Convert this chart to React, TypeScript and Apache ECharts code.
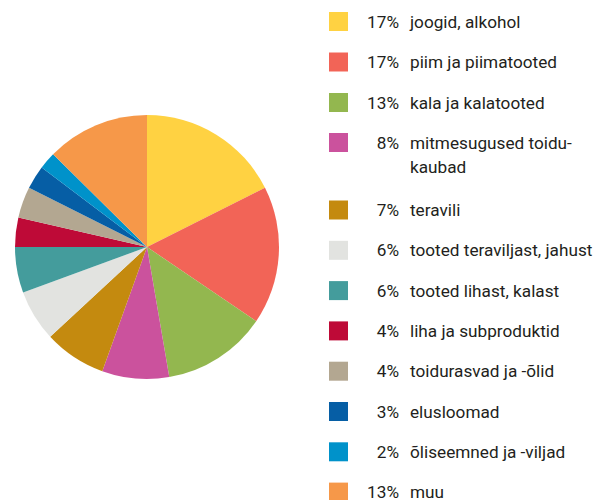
import React, { useEffect, useRef } from "react";
import * as echarts from "echarts";

const categories = [
  "joogid, alkohol",
  "piim ja piimatooted",
  "kala ja kalatooted",
  "mitmesugused toidu-\nkaubad",
  "teravili",
  "tooted teraviljast, jahust",
  "tooted lihast, kalast",
  "liha ja subproduktid",
  "toidurasvad ja -õlid",
  "elusloomad",
  "õliseemned ja -viljad",
  "muu",
];
const sliceValues = [17.6, 16.9, 12.8, 8.2, 7.6, 6.3, 5.6, 3.6, 3.8, 2.9, 2.1, 12.6];
const percentLabels = ["17%", "17%", "13%", "8%", "7%", "6%", "6%", "4%", "4%", "3%", "2%", "13%"];
const palette = [
  "#FFD242",
  "#F26457",
  "#93B74F",
  "#CB529D",
  "#C48A0F",
  "#E2E3E0",
  "#449C9C",
  "#BE0A37",
  "#B3A791",
  "#065EA5",
  "#0092CA",
  "#F69849",
];

const TEXT_COLOR = "#231f20";
const PCT_COL = 46;
const NAME_GAP = 11;
const TARGET_WIDTH = 182; // width of "tooted teraviljast, jahust" in the reference

export default function App() {
  const ref = useRef<HTMLDivElement>(null);
  useEffect(() => {
    if (!ref.current) return;
    const chart = echarts.init(ref.current, null, { renderer: "svg" });
    const ctx = document.createElement("canvas").getContext("2d")!;
    const probe = "mmmmmmwwwwwlllii0123";
    ctx.font = "20px monospace";
    const mono = ctx.measureText(probe).width;
    ctx.font = "20px 'Liberation Sans Narrow', monospace";
    const narrowOk = Math.abs(ctx.measureText(probe).width - mono) > 0.5;
    const FONT = narrowOk ? "'Liberation Sans Narrow'" : "Roboto";
    ctx.font = `20px ${FONT}`;
    let FONT_SIZE = (20 * TARGET_WIDTH) / ctx.measureText(categories[5]).width;
    FONT_SIZE = Math.round(FONT_SIZE * 10) / 10;
    ctx.font = `${FONT_SIZE}px ${FONT}`;
    const base = { fontSize: FONT_SIZE, lineHeight: 24, fontFamily: FONT, color: TEXT_COLOR };
    const rich: Record<string, any> = {
      n: { ...base, padding: [0, 0, 0, NAME_GAP] },
      c: { ...base, padding: [0, 0, 0, PCT_COL + NAME_GAP] },
    };
    percentLabels.forEach((p, i) => {
      const w = ctx.measureText(p).width;
      rich["p" + i] = { ...base, padding: [0, 0, 0, Math.max(0, PCT_COL - w)] };
    });
    const formatter = (name: string) => {
      const i = categories.indexOf(name);
      return name
        .split("\n")
        .map((l, k) => (k === 0 ? `{p${i}|${percentLabels[i]}}{n|${l}}` : `{c|${l}}`))
        .join("\n");
    };
    const baseLegend = {
      orient: "vertical",
      left: 329,
      padding: 0,
      itemWidth: 19,
      itemHeight: 19,
      icon: "rect",
      selectedMode: false,
      formatter,
      textStyle: { ...base, rich },
    };
    chart.setOption({
      animation: false,
      color: palette,
      legend: [
        { ...baseLegend, top: 9.5, itemGap: 16.5, data: categories.slice(0, 3) },
        {
          ...baseLegend,
          top: 106.5,
          data: [categories[3]],
          textStyle: { ...baseLegend.textStyle, padding: [24, 0, 0, 0] },
        },
        { ...baseLegend, top: 198, height: 400, itemGap: 16.3, data: categories.slice(4) },
      ],
      series: [
        {
          type: "pie",
          center: [147, 247],
          radius: 132,
          startAngle: 90,
          clockwise: true,
          label: { show: false },
          labelLine: { show: false },
          emphasis: { disabled: true },
          itemStyle: { borderWidth: 0 },
          data: categories.map((name, i) => ({ name, value: sliceValues[i] })),
        },
      ],
    });
    return () => chart.dispose();
  }, []);
  return (
    <div
      ref={ref}
      style={{ position: "fixed", left: 0, top: 0, width: 595, height: 500, background: "#fff" }}
    />
  );
}
